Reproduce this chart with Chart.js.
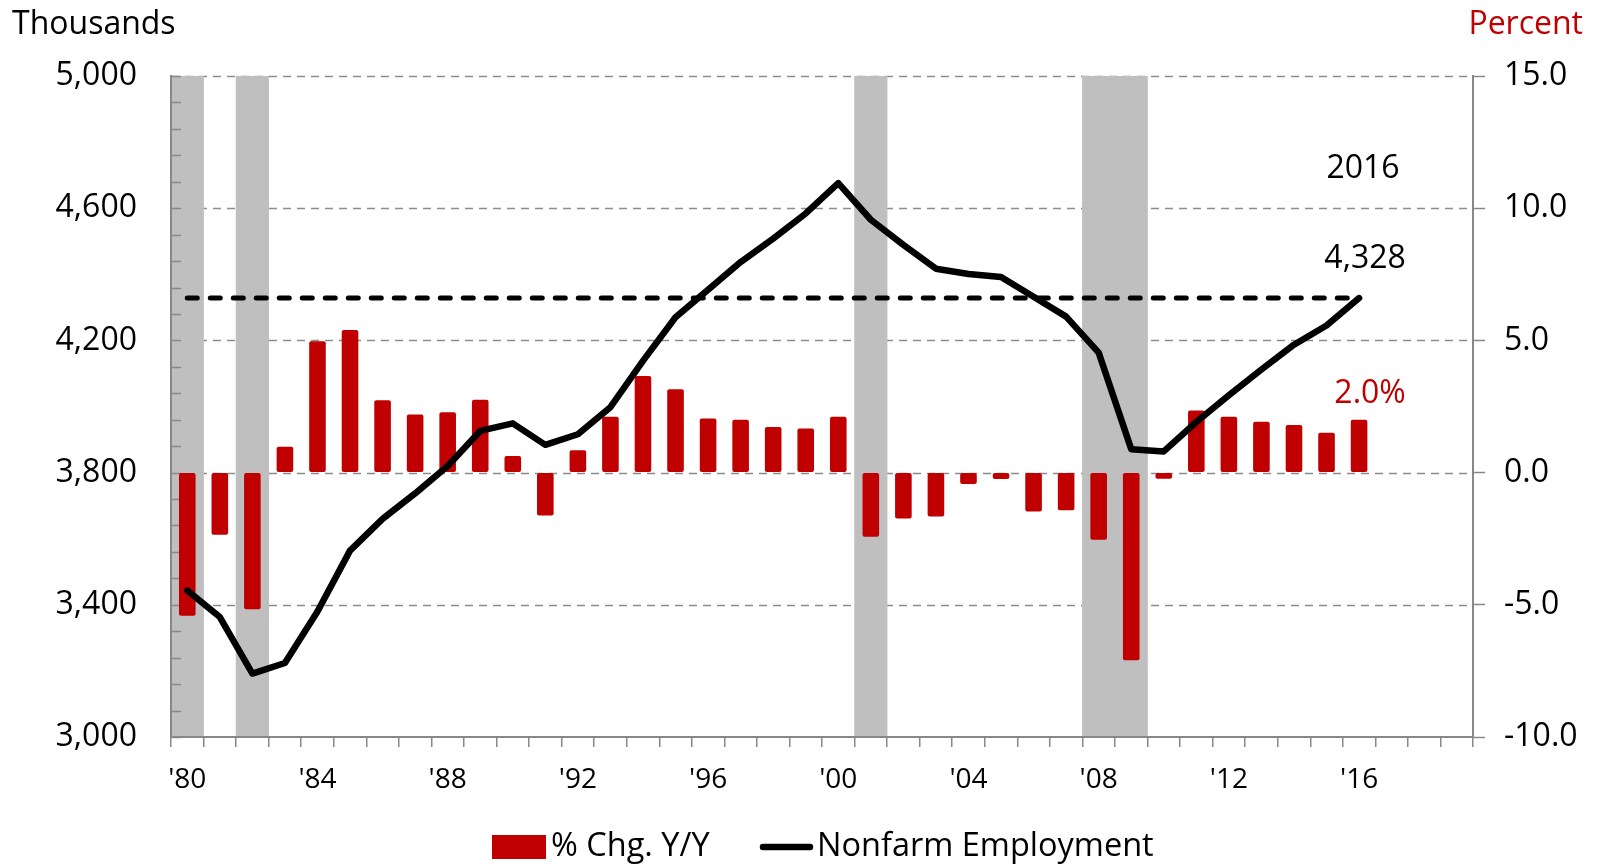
<!DOCTYPE html>
<html>
<head>
<meta charset="utf-8">
<script src="https://cdn.jsdelivr.net/npm/chart.js@4.4.0/dist/chart.umd.min.js"></script>
<style>
  html, body { margin: 0; padding: 0; background: #ffffff; }
  #wrap { width: 1601px; height: 864px; position: relative; }
  canvas { display: block; }
</style>
</head>
<body>
<div id="wrap"><canvas id="chart" width="1601" height="864"></canvas></div>
<script>
// ---- Data ----
const years = [1980, 1981, 1982, 1983, 1984, 1985, 1986, 1987, 1988, 1989,
               1990, 1991, 1992, 1993, 1994, 1995, 1996, 1997, 1998, 1999,
               2000, 2001, 2002, 2003, 2004, 2005, 2006, 2007, 2008, 2009,
               2010, 2011, 2012, 2013, 2014, 2015, 2016, 2017, 2018, 2019];

// Nonfarm employment, thousands (1980-2016)
const employment = [3443, 3363, 3192, 3224, 3380, 3564, 3660, 3737, 3820, 3926,
                    3949, 3884, 3916, 3998, 4138, 4270, 4353, 4437, 4508, 4584,
                    4676, 4565, 4489, 4417, 4401, 4392, 4332, 4272, 4163, 3871,
                    3864, 3953, 4034, 4112, 4187, 4245, 4328];

// Year-over-year percent change (1980-2016)
const pctChange = [-5.41, -2.35, -5.17, 0.98, 4.97, 5.39, 2.74, 2.20, 2.28, 2.76,
                   0.63, -1.62, 0.85, 2.11, 3.65, 3.15, 2.05, 2.00, 1.72, 1.67,
                   2.11, -2.43, -1.74, -1.66, -0.43, -0.24, -1.47, -1.42, -2.54, -7.10,
                   -0.23, 2.35, 2.11, 1.92, 1.80, 1.51, 2.0];

// Recession years (shaded)
const recessionYears = [1980, 1982, 2001, 2008, 2009];

// Axis tick values
const leftTicks = [3000, 3400, 3800, 4200, 4600, 5000];
const rightTicks = [-10, -5, 0, 5, 10, 15];

// ---- Styles ----
const FONT = "'Open Sans', sans-serif";
const RED = '#C00000';
const SHADE = '#BFBFBF';
const GRID = '#8c8c8c';
const AXIS = '#888888';
const MINOR_STEP = 80;

const categories = years.map(y => "'" + String(y).slice(2));
const lastIdx = employment.length - 1;
const latestLevel = employment[lastIdx];
const leftMin = leftTicks[0], leftMax = leftTicks[leftTicks.length - 1];
const shading = years.map(y => recessionYears.includes(y) ? [leftMin, leftMax] : null);

// Dashed horizontal grid lines for the left axis
const gridPlugin = {
  id: 'dashedGrid',
  beforeDatasetsDraw(chart) {
    const { ctx, chartArea, scales } = chart;
    ctx.save();
    ctx.strokeStyle = GRID;
    ctx.lineWidth = 1.5;
    ctx.setLineDash([8, 6]);
    leftTicks.slice(1).forEach(v => {
      const y = Math.round(scales.yL.getPixelForValue(v)) + 0.5;
      ctx.beginPath();
      ctx.moveTo(chartArea.left, y);
      ctx.lineTo(chartArea.right, y);
      ctx.stroke();
    });
    ctx.restore();
  }
};

// Inward major/minor tick marks on the left axis (drawn above the shading)
const leftTickPlugin = {
  id: 'leftTicks',
  afterDatasetDraw(chart, args) {
    if (chart.data.datasets[args.index].role !== 'shade') return;
    const { ctx, chartArea, scales } = chart;
    ctx.save();
    ctx.strokeStyle = AXIS;
    ctx.lineWidth = 1.5;
    for (let v = leftMin; v <= leftMax; v += MINOR_STEP) {
      const y = Math.round(scales.yL.getPixelForValue(v)) + 0.5;
      ctx.beginPath();
      ctx.moveTo(chartArea.left, y);
      ctx.lineTo(chartArea.left + 10, y);
      ctx.stroke();
    }
    ctx.restore();
  }
};

// Axis unit titles, latest-value callouts and legend
const textPlugin = {
  id: 'texts',
  afterDraw(chart) {
    const { ctx, scales } = chart;
    ctx.save();
    ctx.textBaseline = 'middle';

    ctx.font = '32px ' + FONT;
    ctx.fillStyle = '#000';
    ctx.textAlign = 'left';
    ctx.fillText('Thousands', 12, 25);
    ctx.fillStyle = RED;
    ctx.textAlign = 'right';
    ctx.fillText('Percent', 1583, 25);

    const x = scales.x.getPixelForValue(lastIdx);
    const yLevel = scales.yL.getPixelForValue(latestLevel);
    const yBar = scales.yR.getPixelForValue(pctChange[lastIdx]);
    ctx.font = '32px ' + FONT;
    ctx.textAlign = 'center';
    ctx.fillStyle = '#000';
    ctx.fillText(String(years[lastIdx]), x + 4, yLevel - 129);
    ctx.fillText(latestLevel.toLocaleString('en-US'), x + 6, yLevel - 39);
    ctx.fillStyle = RED;
    ctx.fillText(pctChange[lastIdx].toFixed(1) + '%', x + 11, yBar - 26);

    // legend
    const barSet = chart.data.datasets.find(d => d.role === 'bars');
    const lineSet = chart.data.datasets.find(d => d.role === 'level');
    const ly = 847;
    ctx.font = '32.5px ' + FONT;
    ctx.textAlign = 'left';
    ctx.fillStyle = RED;
    ctx.fillRect(492, ly - 12, 54, 24);
    ctx.fillStyle = '#000';
    ctx.fillText(barSet.label, 551, ly);
    ctx.strokeStyle = '#000';
    ctx.lineWidth = 6.5;
    ctx.lineCap = 'round';
    ctx.beginPath();
    ctx.moveTo(763, ly);
    ctx.lineTo(810, ly);
    ctx.stroke();
    ctx.fillText(lineSet.label, 817, ly);
    ctx.restore();
  }
};

new Chart(document.getElementById('chart'), {
  data: {
    labels: categories,
    datasets: [
      {
        type: 'line', role: 'level', label: 'Nonfarm Employment',
        data: employment, yAxisID: 'yL',
        borderColor: '#000', borderWidth: 6.5,
        borderJoinStyle: 'round', borderCapStyle: 'round',
        pointRadius: 0, tension: 0, order: 1
      },
      {
        type: 'line', role: 'ref', label: 'latest level',
        data: [{ x: categories[0], y: latestLevel }, { x: categories[lastIdx], y: latestLevel }],
        yAxisID: 'yL',
        borderColor: '#000', borderWidth: 5, borderDash: [10, 13], borderCapStyle: 'round',
        pointRadius: 0, order: 2
      },
      {
        type: 'bar', role: 'bars', label: '% Chg. Y/Y',
        data: pctChange, yAxisID: 'yR',
        backgroundColor: RED, borderRadius: 2, borderSkipped: false,
        barPercentage: 1, categoryPercentage: 0.51, grouped: false, order: 3
      },
      {
        type: 'bar', role: 'shade', label: 'recession',
        data: shading, yAxisID: 'yL',
        backgroundColor: SHADE,
        barPercentage: 1, categoryPercentage: 1, grouped: false, order: 4
      }
    ]
  },
  options: {
    responsive: false,
    animation: false,
    events: [],
    layout: { padding: { top: 76, left: 0, right: 0, bottom: 0 } },
    plugins: { legend: { display: false }, tooltip: { enabled: false } },
    scales: {
      x: {
        type: 'category', offset: true,
        grid: { display: true, drawOnChartArea: false, drawTicks: true, tickLength: 10,
                color: AXIS, tickColor: AXIS, lineWidth: 1.5, offset: true },
        border: { display: true, color: AXIS, width: 2, z: 1 },
        ticks: {
          autoSkip: false, maxRotation: 0, minRotation: 0, padding: 16,
          color: '#000', font: { family: FONT, size: 28 },
          callback: (v, i) => (i % 4 === 0 ? categories[i] : '')
        },
        afterFit: s => { s.height = 864 - 737; }
      },
      yL: {
        position: 'left', min: leftMin, max: leftMax,
        afterBuildTicks: s => { s.ticks = leftTicks.map(v => ({ value: v })); },
        grid: { display: false, drawTicks: false },
        border: { display: true, color: AXIS, width: 2, z: 1 },
        ticks: {
          padding: 34, color: '#000', font: { family: FONT, size: 32 },
          callback: v => Number(v).toLocaleString('en-US')
        },
        afterFit: s => { s.width = 171; }
      },
      yR: {
        position: 'right', min: rightTicks[0], max: rightTicks[rightTicks.length - 1],
        afterBuildTicks: s => { s.ticks = rightTicks.map(v => ({ value: v })); },
        grid: { display: true, drawOnChartArea: false, drawTicks: true, tickLength: 12,
                tickColor: AXIS, color: AXIS, tickWidth: 1.5 },
        border: { display: true, color: AXIS, width: 2 },
        ticks: {
          padding: 19, color: '#000', font: { family: FONT, size: 32 },
          callback: v => Number(v).toFixed(1)
        },
        afterFit: s => { s.width = 128; }
      }
    }
  },
  plugins: [gridPlugin, leftTickPlugin, textPlugin]
});
</script>
</body>
</html>
